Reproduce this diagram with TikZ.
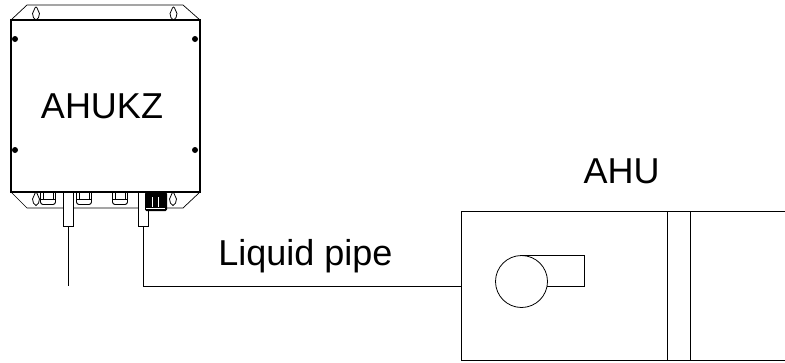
\documentclass[tikz,border=0pt]{standalone}
\usepackage{fontspec}
\setmainfont{Liberation Sans}
\usetikzlibrary{positioning}

\tikzset{
    unit/.style={draw,line width=1.1pt,inner sep=0pt,outer sep=0pt},
    stub/.style={draw,line width=.8pt,fill=white,inner sep=0pt,outer sep=0pt,minimum width=9.5pt,minimum height=34pt},
    screw/.style={circle,fill=black,inner sep=0pt,minimum size=6pt},
    label/.style={font=\fontsize{36}{40}\selectfont,inner sep=0pt,anchor=base}
}

\begin{document}
\begin{tikzpicture}[x=1pt,y=-1pt]
    \useasboundingbox (0,0) rectangle (785,362);

    % control box
    \node[unit,minimum width=189pt,minimum height=172pt] (box) at (105.5,106) {};
    \draw[line width=.7pt] (box.north west) -- (27,5) -- (183,5) -- (box.north east);
    \draw[line width=.7pt] (box.south west) -- (27,208) -- (183,208) -- (box.south east);

    \foreach \x in {15,195}
        \foreach \y in {39,150}
            \node[screw] at (\x,\y) {};

    % keyholes
    \foreach \x/\y in {36/13.5,173.5/13.5,36/199,173/199}
        \draw[line width=.8pt] (\x,\y-6.5) .. controls (\x+2,\y-6) and (\x+1.5,\y-2) .. (\x+3.5,\y)
            .. controls (\x+3.5,\y+3) and (\x+2,\y+6) .. (\x,\y+6.5)
            .. controls (\x-2,\y+6) and (\x-3.5,\y+3) .. (\x-3.5,\y)
            .. controls (\x-1.5,\y-2) and (\x-2,\y-6) .. (\x,\y-6.5);

    % cable glands
    \foreach \x in {48,84,120} {
        \draw[line width=.9pt,rounded corners=2.5pt] (\x-7.5,192) -- (\x-7.5,204.5) -- (\x+7.5,204.5) -- (\x+7.5,192);
        \draw[line width=.7pt] (\x-7,199) -- (\x+7,199);
        \draw[line width=.7pt] (\x-5,192) -- (\x-5,199) (\x+5,192) -- (\x+5,199);
    };

    \node[stub] (left) at (68.5,209) {};
    \node[stub] (right) at (143.5,209) {};
    \coordinate (free) at (68.5,286);

    \fill[black,rounded corners=1.5pt] (145,192) rectangle (167,211);
    \foreach \x in {152,158}
        \draw[white,line width=.4pt] (\x,197) -- (\x,207);
    \draw[white,line width=.4pt] (146,208) -- (165,208);

    \node[label] at (102,118) {AHUKZ};
    \node[label] at (621.5,183) {AHU};
    \node[label] at (305.5,265) {Liquid pipe};

    % air handling unit
    \coordinate (ahunw) at (461,211);
    \coordinate (ahusw) at (461,360);
    \coordinate (inlet) at (461,286);
    \draw[line width=1pt] (785,211) -- (ahunw) -- (ahusw) -- (785,360);
    \foreach \x in {667.5,690}
        \draw[line width=.9pt] (\x,211) -- (\x,360);

    \node[draw,circle,line width=.8pt,minimum size=52pt,inner sep=0pt,outer sep=0pt] (fan) at (521.5,281.5) {};
    \draw[line width=.8pt] (fan.north) -- (584,255.5) -- (584,286) -- (547,286);

    \draw[line width=.8pt] (left.south) -- (free);
    \draw[line width=.8pt] (right.south) |- (inlet);
\end{tikzpicture}
\end{document}
